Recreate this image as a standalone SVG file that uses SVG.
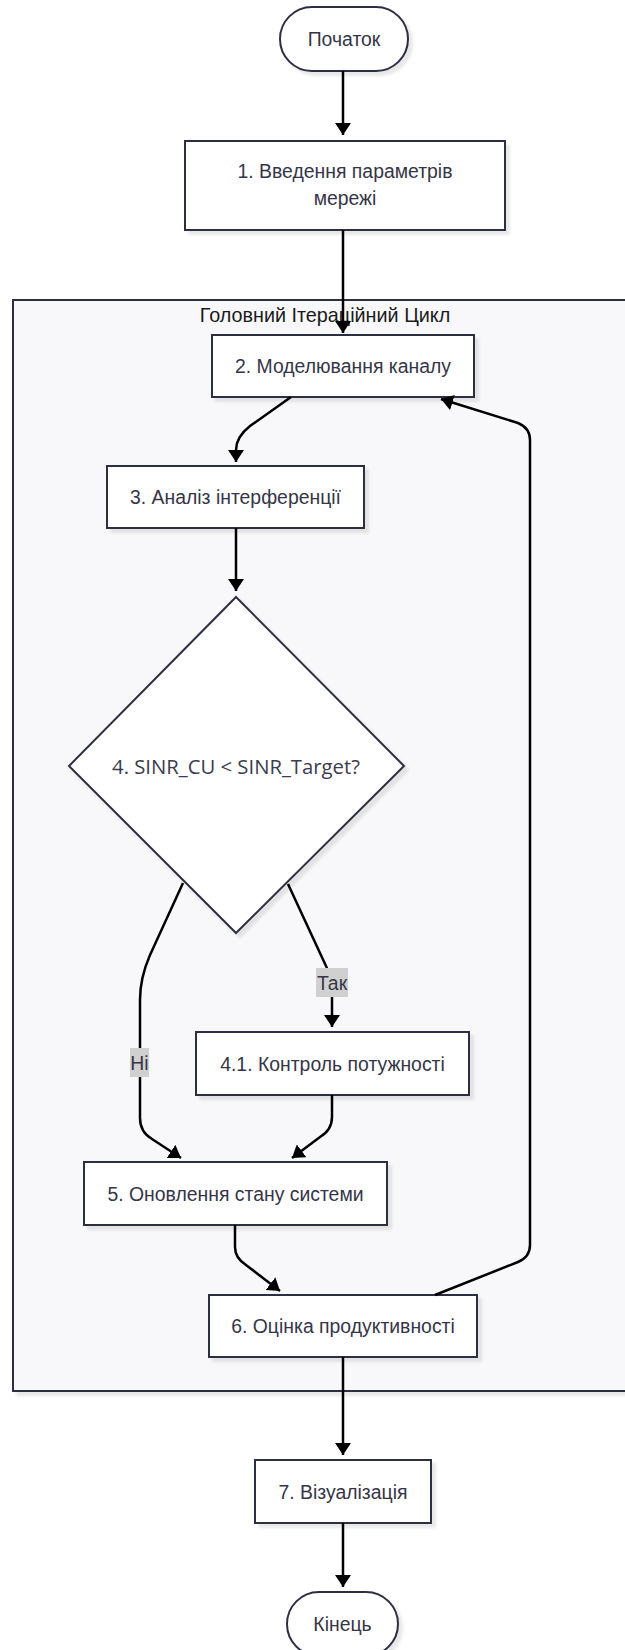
<svg xmlns="http://www.w3.org/2000/svg" width="625" height="1650" viewBox="0 0 625 1650">
  <style>
    .node { fill: #ffffff; stroke: #2e2e42; stroke-width: 2; filter: url(#shadow); }
    .cluster { fill: #f8f8fa; stroke: #2e2e42; stroke-width: 2; filter: url(#shadow); }
    .label { font-family: "Liberation Sans", Arial, sans-serif; font-size: 19.4px; fill: #353547; text-anchor: middle; dominant-baseline: central; }
    .cond { font-family: "Open Sans", "Noto Sans", sans-serif; font-size: 20.3px; fill: #3c3c4e; text-anchor: middle; dominant-baseline: central; }
    .title { font-family: "Liberation Sans", Arial, sans-serif; font-size: 19.8px; fill: #1a1a1a; text-anchor: middle; dominant-baseline: central; }
    .edge { fill: none; stroke: #000000; stroke-width: 2.5; marker-end: url(#arrow); }
    .edge-label-bg { fill: #d0d0d0; }
  </style>
  <defs>
    <marker id="arrow" markerUnits="userSpaceOnUse" markerWidth="12" markerHeight="16" refX="12" refY="8" orient="auto">
      <path d="M0,0 L12,8 L0,16 z" fill="#000000"/>
    </marker>
    <filter id="shadow" x="-10%" y="-10%" width="130%" height="130%">
      <feDropShadow dx="4" dy="4" stdDeviation="1.5" flood-color="#000000" flood-opacity="0.09"/>
    </filter>
  </defs>

  <!-- main loop cluster -->
  <g id="cluster-main-loop">
    <rect class="cluster" x="13" y="300" width="640" height="1091"/>
    <text class="title" x="325" y="315">Головний Ітераційний Цикл</text>
  </g>

  <g id="node-start">
    <rect class="node" x="280" y="7" width="128" height="64" rx="32" ry="32"/>
    <text class="label" x="344" y="39">Початок</text>
  </g>

  <g id="node-1">
    <rect class="node" x="185" y="141" width="320" height="89"/>
    <text class="label" x="345" y="171">1. Введення параметрів</text>
    <text class="label" x="345" y="198">мережі</text>
  </g>

  <g id="node-2">
    <rect class="node" x="212" y="335" width="262" height="62"/>
    <text class="label" x="343" y="366">2. Моделювання каналу</text>
  </g>

  <g id="node-3">
    <rect class="node" x="107" y="466" width="257" height="62"/>
    <text class="label" x="235.5" y="497">3. Аналіз інтерференції</text>
  </g>

  <g id="node-4">
    <polygon class="node" points="236,597 404,766 236,933 69,766"/>
    <text class="cond" x="236" y="766">4. SINR_CU &lt; SINR_Target?</text>
  </g>

  <g id="node-4-1">
    <rect class="node" x="196" y="1032" width="273" height="63"/>
    <text class="label" x="332.5" y="1063.5">4.1. Контроль потужності</text>
  </g>

  <g id="node-5">
    <rect class="node" x="84" y="1162" width="303" height="63"/>
    <text class="label" x="235.5" y="1194">5. Оновлення стану системи</text>
  </g>

  <g id="node-6">
    <rect class="node" x="209" y="1295" width="268" height="62"/>
    <text class="label" x="343" y="1326">6. Оцінка продуктивності</text>
  </g>

  <g id="node-7">
    <rect class="node" x="255" y="1460" width="176" height="63"/>
    <text class="label" x="343" y="1491.5">7. Візуалізація</text>
  </g>

  <g id="node-end">
    <rect class="node" x="287" y="1592" width="111" height="64" rx="32" ry="32"/>
    <text class="label" x="342.5" y="1624">Кінець</text>
  </g>

  <!-- connectors -->
  <g id="edges">
    <path class="edge" d="M343,71 L343,135"/>
    <path class="edge" d="M343,230 L343,333"/>
    <path class="edge" d="M291,397 L250,426 Q236,437 236,450 L236,462"/>
    <path class="edge" d="M236,528 L236,591"/>
    <path class="edge" d="M288,884 L326,966 Q332,978 332,990 L332,1027"/>
    <path class="edge" d="M183,883 L150,955 Q140,978 140,1000 L140,1118 Q140,1132 152,1139 L181,1158"/>
    <path class="edge" d="M332,1095 L332,1117 Q332,1130 320,1137 L292,1158"/>
    <path class="edge" d="M235,1225 L235,1247 Q235,1258 246,1265 L280,1291"/>
    <path class="edge" d="M435,1295 L518,1262 Q530,1257 530,1245 L530,440 Q530,428 518,423 L441,399"/>
    <path class="edge" d="M343,1357 L343,1455"/>
    <path class="edge" d="M343,1523 L343,1587"/>
  </g>

  <!-- branch labels -->
  <g id="edge-labels">
    <rect class="edge-label-bg" x="316" y="968" width="32" height="29"/>
    <text class="label" x="332" y="982.5">Так</text>
    <rect class="edge-label-bg" x="130" y="1048" width="19" height="29"/>
    <text class="label" x="139.5" y="1062.5">Ні</text>
  </g>
</svg>
